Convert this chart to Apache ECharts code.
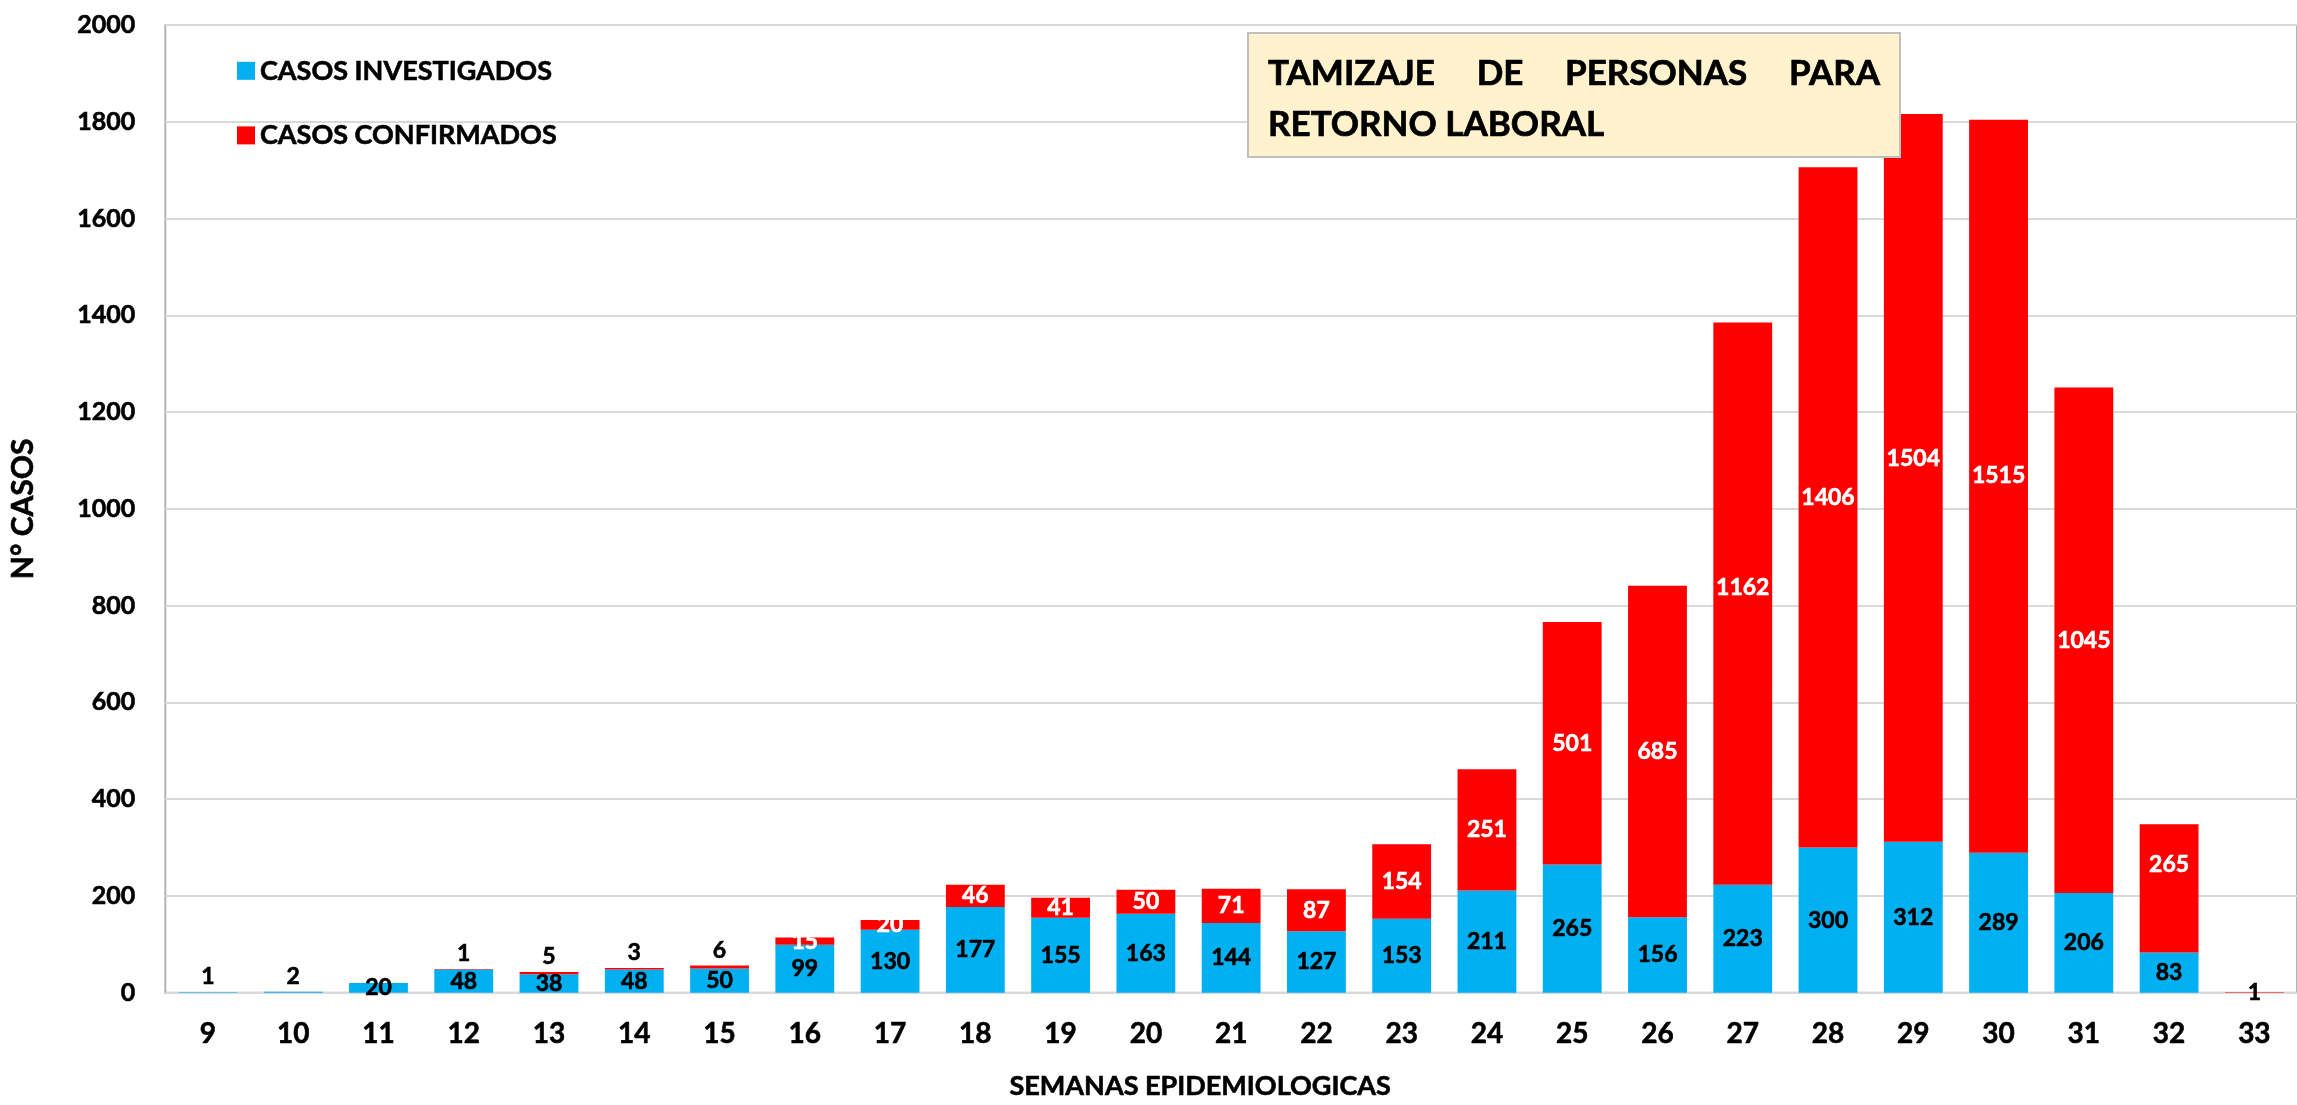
<!DOCTYPE html>
<html>
<head>
<meta charset="utf-8">
<script src="https://cdn.jsdelivr.net/npm/echarts@6/dist/echarts.min.js"></script>
<style>
  html, body { margin: 0; padding: 0; background: #fff; }
  #chart { width: 2297px; height: 1105px; }
</style>
</head>
<body>
<div id="chart"></div>
<script>
// semanas epidemiologicas
const weeks = ['9','10','11','12','13','14','15','16','17','18','19','20','21','22','23','24','25','26','27','28','29','30','31','32','33'];
const investigated = [1,2,20,48,38,48,50,99,130,177,155,163,144,127,153,211,265,156,223,300,312,289,206,83,0];
const confirmed = [0,0,0,1,5,3,6,15,20,46,41,50,71,87,154,251,501,685,1162,1406,1504,1515,1045,265,1];
const yTicks = [0,200,400,600,800,1000,1200,1400,1600,1800,2000];

// ajuste vertical (px) de algunas etiquetas rojas, como en el original
const confLabelShift = {'27': -16, '28': -10, '29': -19, '30': -11, '32': -24};

const FONT = 'Lato';
const W = 'bold';
const BLUE = '#00B0F0';
const RED = '#FF0000';

// trazo fino para engrosar un poco el texto
const blackTxt = { color: '#000', textBorderColor: '#000', textBorderWidth: 0.6 };

const blueData = investigated.map(function (v) {
  return {
    value: v,
    label: v < 10 ? { position: 'top', distance: 4 } : { position: 'inside' }
  };
});

const redData = confirmed.map(function (v, i) {
  let lab;
  if (v < 10) {
    lab = investigated[i] > 5
      ? { position: 'top', distance: 4, color: '#000', textBorderColor: '#000' }
      : { position: 'inside', color: '#000', textBorderColor: '#000' };
  } else {
    lab = { position: 'inside', offset: [0, confLabelShift[weeks[i]] || 0] };
  }
  return { value: v, label: lab };
});

// cuadro de titulo, texto justificado en la primera linea
const titleWords = ['TAMIZAJE', 'DE', 'PERSONAS', 'PARA'];
const titleLine2 = 'RETORNO LABORAL';
const boxX = 1248, boxY = 33, boxW = 652, boxH = 124;
const txtL = 1268, txtR = 1880;
const titleFont = W + ' 35px ' + FONT;

const ctx = document.createElement('canvas').getContext('2d');
ctx.font = titleFont;
const wordW = titleWords.map(function (w) { return ctx.measureText(w).width; });
const sumW = wordW.reduce(function (a, b) { return a + b; }, 0);
const gap = (txtR - txtL - sumW) / (titleWords.length - 1);

const titleGraphics = [{
  type: 'rect',
  shape: { x: boxX, y: boxY, width: boxW, height: boxH },
  style: { fill: '#FFF2CC', stroke: '#BFBFBF', lineWidth: 2 },
  z: 100
}];
let cx = txtL;
titleWords.forEach(function (w, i) {
  titleGraphics.push({
    type: 'text', z: 101,
    style: { text: w, x: cx, y: 74, font: titleFont, fill: '#000', stroke: '#000', lineWidth: 0.7, textAlign: 'left', textVerticalAlign: 'middle' }
  });
  cx += wordW[i] + gap;
});
titleGraphics.push({
  type: 'text', z: 101,
  style: { text: titleLine2, x: txtL, y: 125, font: titleFont, fill: '#000', stroke: '#000', lineWidth: 0.7, textAlign: 'left', textVerticalAlign: 'middle' }
});

const myChart = echarts.init(document.getElementById('chart'));

myChart.setOption({
  animation: false,
  textStyle: { fontFamily: FONT },
  grid: {
    left: 165, right: -15, top: 25, bottom: 110,
    show: true, borderColor: '#B3B3B3', borderWidth: 2
  },
  legend: {
    data: ['CASOS INVESTIGADOS', 'CASOS CONFIRMADOS'],
    orient: 'vertical',
    left: 232, top: 52,
    icon: 'rect',
    itemWidth: 18, itemHeight: 18, itemGap: 37,
    textStyle: Object.assign({ fontFamily: FONT, fontWeight: W, fontSize: 27 }, blackTxt)
  },
  xAxis: {
    type: 'category',
    data: weeks,
    axisLine: { show: false },
    axisTick: { show: false },
    axisLabel: Object.assign({ fontFamily: FONT, fontWeight: W, fontSize: 28, margin: 27 }, blackTxt),
    name: 'SEMANAS EPIDEMIOLOGICAS',
    nameLocation: 'middle',
    nameGap: 80,
    nameTextStyle: Object.assign({ fontFamily: FONT, fontWeight: W, fontSize: 27, padding: [0, 62, 0, 0] }, blackTxt)
  },
  yAxis: {
    type: 'value',
    min: yTicks[0],
    max: yTicks[yTicks.length - 1],
    interval: yTicks[1] - yTicks[0],
    axisLine: { show: false },
    axisTick: { show: false },
    axisLabel: Object.assign({
      fontFamily: FONT, fontWeight: W, fontSize: 25, margin: 30,
      formatter: function (v) { return String(v); }
    }, blackTxt),
    splitLine: { lineStyle: { color: '#D9D9D9', width: 2 } },
    name: 'N° CASOS',
    nameLocation: 'middle',
    nameRotate: 90,
    nameGap: 127,
    nameTextStyle: Object.assign({ fontFamily: FONT, fontWeight: W, fontSize: 30 }, blackTxt)
  },
  graphic: titleGraphics,
  series: [
    {
      name: 'CASOS INVESTIGADOS',
      type: 'bar',
      stack: 'total',
      barWidth: '69%',
      itemStyle: { color: BLUE },
      label: Object.assign({
        show: true,
        fontFamily: FONT, fontWeight: W, fontSize: 23,
        formatter: function (p) { return p.value ? String(p.value) : ''; }
      }, blackTxt),
      data: blueData
    },
    {
      name: 'CASOS CONFIRMADOS',
      type: 'bar',
      stack: 'total',
      barWidth: '69%',
      itemStyle: { color: RED },
      label: {
        show: true,
        fontFamily: FONT, fontWeight: W, fontSize: 23,
        color: '#fff', textBorderColor: '#fff', textBorderWidth: 0.6,
        formatter: function (p) { return p.value ? String(p.value) : ''; }
      },
      data: redData
    }
  ]
});
</script>
</body>
</html>
